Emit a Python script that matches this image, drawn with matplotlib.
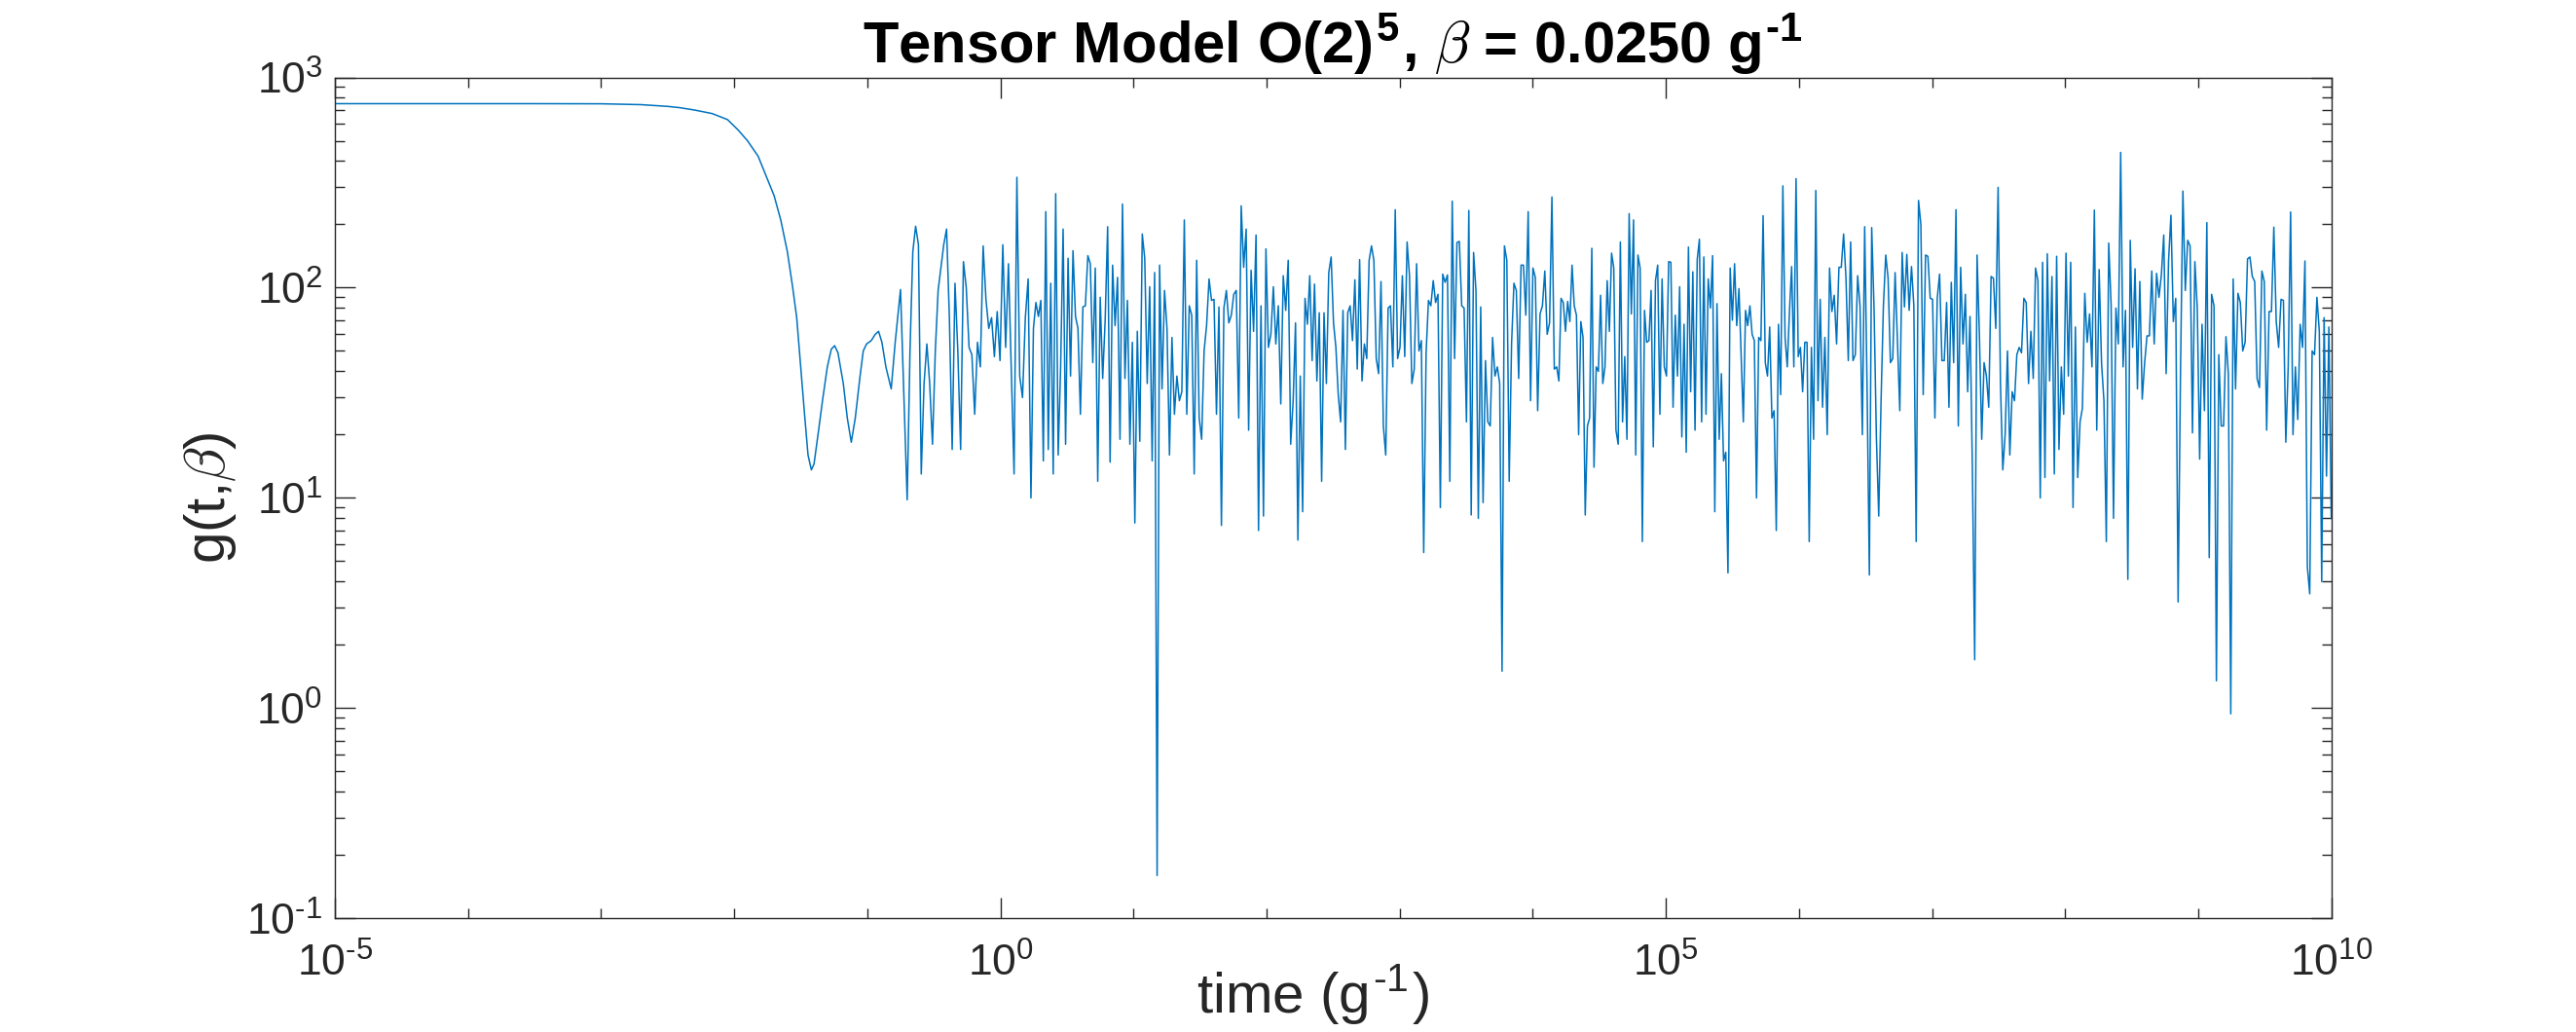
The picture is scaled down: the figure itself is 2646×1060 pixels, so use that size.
import numpy as np
import matplotlib
matplotlib.use("Agg")
import matplotlib.pyplot as plt
from matplotlib.ticker import LogLocator, NullFormatter, FuncFormatter

# ------------------------------------------------------------
# data (g(t, beta) vs time, log-log)
# ------------------------------------------------------------
# smooth early part: log10(t) and g
trans_logt = [-5.0, -3.5, -3.0, -2.7, -2.5, -2.41, -2.3, -2.165, -2.05, -1.97,
              -1.9, -1.82, -1.76, -1.70, -1.65, -1.60, -1.56, -1.53, -1.50, -1.47,
              -1.445, -1.42, -1.40, -1.37, -1.335, -1.30, -1.27, -1.245, -1.22, -1.18,
              -1.15, -1.12, -1.09, -1.054, -1.03, -1.005, -0.97, -0.94, -0.915, -0.89,
              -0.86, -0.82, -0.79, -0.75]
trans_g = [750, 750, 749, 742, 728, 718, 700, 673, 630, 562,
           500, 422, 340, 274, 210, 148, 100, 72, 42, 24.5,
           16, 13.6, 14.5, 20, 29.4, 42, 51, 53, 49, 35,
           24, 18.4, 24, 38, 50, 54, 56, 60, 62, 55,
           42, 33, 55, 98]

# noisy part, split in windows (log10 t edges), samples evenly spread in log t
seg_edges = [-0.70, 0.23, 2.20, 4.18, 6.16, 8.13, 10.0]

noise_a = [9.8, 50, 148, 196, 160, 13, 35, 54, 35, 18, 50, 97, 125, 160, 190, 72,
           17, 105, 50, 17, 133, 100, 52, 48, 25, 55, 42, 158, 88, 64, 72, 47,
           77, 45, 160, 52, 130, 42, 13, 335, 38, 30, 72, 110]

noise_b = [10, 64, 85, 73, 87, 15, 230, 17, 105, 13, 280, 16, 42, 190, 18, 138,
           38, 150, 73, 64, 25, 81, 82, 142, 130, 44, 124, 12, 90, 37, 70, 195,
           14.8, 128, 66, 112, 19, 250, 37, 87, 18, 55, 7.6, 62, 18.6, 180, 138, 35,
           101, 15, 118, 0.16, 128, 33, 97, 64, 16, 58, 25, 38, 29, 32, 210, 25,
           82, 74, 13, 135, 24, 19, 50, 66, 110, 87, 88, 25, 81, 7.4, 80, 97,
           68, 74, 93, 97, 24, 245, 125, 190, 21, 121, 62, 178, 7, 82, 8.2, 153,
           52, 60, 101, 54, 82, 28, 114, 78, 135, 18]

noise_c = [29, 68, 6.3, 38, 8.6, 89, 67, 114, 45, 104, 36, 76, 12, 76, 35, 118,
           140, 68, 52, 31, 23, 78, 17, 76, 82, 56, 109, 41, 136, 36, 54, 46,
           135, 158, 135, 46, 39, 107, 22, 16, 80, 82, 42, 235, 46, 52, 114, 47,
           165, 114, 35, 41, 130, 50, 56, 5.5, 49, 87, 82, 108, 85, 93, 9, 116,
           106, 115, 12, 258, 46, 164, 166, 82, 80, 23, 233, 8.3, 147, 97, 8, 81,
           9.5, 45, 23, 22, 58, 38, 42, 35, 1.5, 158, 135, 12, 54, 105, 97, 37,
           128, 128, 74, 230, 29, 124, 112, 26, 75, 82, 120, 60, 68, 270, 41]

noise_d = [42, 36, 89, 85, 62, 86, 69, 128, 82, 74, 20, 69, 58, 8.3, 22, 24,
           154, 14, 42, 40, 92, 35, 42, 108, 62, 146, 124, 21, 18, 165, 23, 47,
           19, 225, 75, 210, 16, 143, 124, 6.2, 78, 55, 56, 97, 17.5, 108, 128, 25,
           110, 42, 38, 133, 132, 27, 74, 38, 101, 19.5, 67, 16.5, 156, 32, 119, 21,
           136, 170, 23, 140, 25, 110, 80, 142, 8.6, 84, 19, 39, 15, 16.5, 4.4, 124,
           70, 130, 66, 99, 48, 23, 78, 66, 82, 60, 56, 10, 58, 56, 220, 44,
           38, 65, 24, 26, 7, 67, 31, 305, 58, 42, 77, 126, 42, 330, 47, 52,
           32, 55, 55, 6.2, 52, 19, 290, 29]

noise_e = [88, 27, 58, 20, 124, 77, 92, 54, 125, 125, 180, 112, 45, 165, 45, 48,
           114, 82, 20, 195, 35, 4.3, 193, 80, 19.4, 8.2, 29, 82, 143, 111, 44, 46,
           118, 56, 26, 147, 81, 144, 78, 126, 82, 6.2, 260, 200, 31, 143, 141, 89,
           88, 24, 89, 116, 45, 45, 85, 27, 106, 44, 235, 22, 125, 54, 93, 32,
           73, 14, 1.7, 143, 60, 19, 44, 38, 27, 113, 111, 64, 300, 35, 13.6, 20,
           50, 16, 32, 29, 48, 52, 49, 89, 85, 35, 62, 37, 124, 108, 10, 132,
           12.5, 145, 36, 113, 13, 141, 17, 42, 25, 146, 38, 132, 9, 65, 12.5, 23]

noise_f = [26.7, 94, 55, 75, 42, 234, 21, 122, 43.8, 29, 6.2, 163, 83, 8, 80, 54,
           440, 42, 78, 4.1, 168, 52, 123, 33, 107, 29.5, 43.8, 59, 59, 120, 54, 117,
           90, 115, 178, 39, 134, 221, 69, 89, 3.2, 40, 288, 97, 168, 158, 20.4, 133,
           80, 15.3, 67, 26, 204, 5.2, 93, 82, 1.35, 48, 22, 22, 58.5, 39, 0.94, 110,
           33, 94, 85, 50, 55, 137, 140, 113, 107, 37, 33.5, 120, 107, 21, 77, 77,
           194, 69, 52, 88, 87, 18.4, 42, 229, 20, 42, 23.6, 67, 52, 134, 4.7, 3.5,
           50, 48, 90, 62, 4, 72, 12.7, 65, 8]

# ------------------------------------------------------------
# assemble
# ------------------------------------------------------------
segments = [noise_a, noise_b, noise_c, noise_d, noise_e, noise_f]
t_parts = [10.0 ** np.array(trans_logt)]
g_parts = [np.array(trans_g, dtype=float)]
for k, seg in enumerate(segments):
    last = k == len(segments) - 1
    t_parts.append(np.logspace(seg_edges[k], seg_edges[k + 1], len(seg), endpoint=last))
    g_parts.append(np.array(seg, dtype=float))
t = np.concatenate(t_parts)
g = np.concatenate(g_parts)

# ------------------------------------------------------------
# plot (MATLAB-like look)
# ------------------------------------------------------------
plt.rcParams["font.family"] = ["Liberation Sans", "DejaVu Sans"]
plt.rcParams["mathtext.fontset"] = "cm"
plt.rcParams["axes.unicode_minus"] = False

HY = "\u2010"   # short hyphen, mathtext turns "-" into a long minus


def pow10(v, pos):
    e = int(round(np.log10(v)))
    return r"$\mathdefault{10^{%s}}$" % str(e).replace("-", HY)


dark = "#262626"
fig = plt.figure(figsize=(26.46, 10.6), dpi=100)
ax = fig.add_axes([0.13, 0.11, 0.775, 0.815])
ax.plot(t, g, color="#0072BD", lw=1.1)

ax.set_xscale("log")
ax.set_yscale("log")
ax.set_xlim(1e-5, 1e10)
ax.set_ylim(1e-1, 1e3)

ax.set_xticks([1e-5, 1e0, 1e5, 1e10])
ax.xaxis.set_major_formatter(FuncFormatter(pow10))
ax.xaxis.set_minor_locator(LogLocator(base=10, subs=[1.0], numticks=30))
ax.xaxis.set_minor_formatter(NullFormatter())
ax.yaxis.set_major_locator(LogLocator(base=10, numticks=10))
ax.yaxis.set_major_formatter(FuncFormatter(pow10))
ax.yaxis.set_minor_locator(LogLocator(base=10, subs=np.arange(2, 10), numticks=10))
ax.yaxis.set_minor_formatter(NullFormatter())

ax.tick_params(which="both", direction="in", top=True, right=True,
               colors=dark, width=1.0)
ax.tick_params(which="major", length=15, labelsize=32)
ax.tick_params(which="minor", length=7.5)
ax.tick_params(axis="x", which="major", pad=18)
ax.tick_params(axis="y", which="major", pad=9)
for s in ax.spines.values():
    s.set_color(dark)
    s.set_linewidth(1.0)

ax.set_xlabel(r"time (g$^{\mathdefault{%s1}}$)" % HY, fontsize=42, color=dark)
ax.xaxis.set_label_coords(0.49, -0.052)
ax.set_ylabel(r"g(t,$\beta$)", fontsize=42, color=dark, labelpad=6)
ax.set_title(r"Tensor Model O(2)$^{\mathdefault{5}}$, $\beta$ = 0.0250 g$^{\mathdefault{%s1}}$" % HY,
             fontsize=43, fontweight="bold", color="black", pad=10)

fig.savefig("out.png", dpi=100, facecolor="white")
